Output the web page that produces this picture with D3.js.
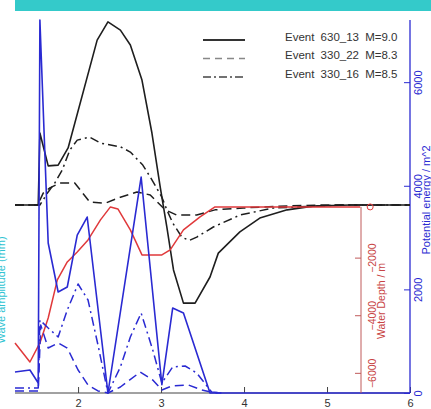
<!DOCTYPE html>
<html><head><meta charset="utf-8">
<script src="https://cdn.jsdelivr.net/npm/d3@7"></script>
<style>body{margin:0;background:#fff;} svg{display:block;font-family:"Liberation Sans",Arial,sans-serif;}</style>
</head><body><svg id="c" width="431" height="409"></svg>
<script>
// ---- data ----
const xTicks = [2, 3, 4, 5, 6];
const energyTicks = [0, 2000, 4000, 6000];
const depthTicks = [-6000, -4000, -2000];
const legendLabels = ["Event 630_13 M=9.0", "Event 330_22 M=8.3", "Event 330_16 M=8.5"];

// black curves (sea surface, hidden left scale)
const blkSolidX = [1.24,1.52,1.54,1.64,1.76,1.88,2.23,2.36,2.51,2.63,2.77,2.89,2.99,3.07,3.15,3.27,3.41,3.59,3.69,3.95,4.19,4.52,4.83,5.28,6.0];
const blkSolidY = [50.4,50.4,69.7,60.9,61.1,65.7,94.6,99.5,97.3,93.3,83.9,69.7,55.2,44.5,33.0,24.1,24.1,31.1,37.5,43.2,46.9,49.1,50.1,50.4,50.4];
const blkDashX = [1.24,1.52,1.54,1.58,1.66,1.78,1.96,2.14,2.33,2.51,2.71,2.87,3.05,3.19,3.43,3.65,3.99,4.43,4.92,6.0];
const blkDashY = [50.4,50.4,51.7,53.6,55.0,56.3,56.3,51.2,50.9,52.5,53.9,53.1,49.1,47.7,47.7,49.1,49.6,50.1,50.4,50.4];
const blkDotX = [1.24,1.52,1.54,1.64,1.72,1.81,1.90,1.99,2.14,2.27,2.51,2.63,2.78,2.87,3.01,3.07,3.14,3.25,3.34,3.43,3.63,3.95,4.35,4.67,5.16,6.0];
const blkDotY = [50.4,50.4,50.4,53.9,56.3,59.8,65.1,67.8,68.6,67.0,66.0,64.6,61.1,57.9,52.5,49.1,45.6,41.8,40.9,41.8,44.5,47.7,49.6,49.9,50.4,50.4];

// blue curves (potential energy, right axis)
const bluSolidX = [1.24,1.42,1.52,1.54,1.64,1.76,1.87,1.99,2.11,2.36,2.76,3.01,3.14,3.27,3.59,3.73];
const bluSolidY = [405,444,193,7200,2895,1949,2046,3049,3397,0,4169,160,1640,1544,0,0];
const bluDashX = [1.24,1.52,1.55,1.64,1.76,1.87,2.0,2.12,2.24,2.36,2.51,2.75,2.90,3.01,3.13,3.33,3.49,3.65,3.73];
const bluDashY = [39,39,1312,868,965,868,444,154,39,0,116,405,251,58,135,154,58,0,0];
const bluDotX = [1.24,1.52,1.54,1.64,1.76,1.87,2.0,2.12,2.24,2.36,2.51,2.63,2.76,2.90,3.01,3.14,3.29,3.43,3.61,3.73];
const bluDotY = [97,97,1409,1255,1081,1602,2104,1795,926,0,502,1081,1544,830,193,502,521,386,19,0];

// red curve (water depth, m)
const depthX = [1.24,1.42,1.54,1.64,1.75,1.87,1.99,2.12,2.27,2.39,2.48,2.63,2.77,3.01,3.11,3.27,3.47,3.65,5.40];
const depthY = [-4963,-5623,-4963,-4095,-2775,-2150,-1803,-1386,-691,-240,-309,-1039,-1907,-1907,-1733,-1039,-587,-240,-240];
const gaugeX = 5.52, gaugeDepth = -240;

// ---- drawing ----
const svg = d3.select("#c");
const W = 431, H = 409;
const mL = 15, mR = 410, mT = 20, mB = 393;

const x = d3.scaleLinear().domain([1.24, 6]).range([mL, mR]);
const yE = d3.scaleLinear().domain([0, 7200]).range([mB, mT]);
const yL = d3.scaleLinear().domain([0, 100]).range([mB, mT]);
const yD = d3.scaleLinear().domain([-6700, 0]).range([mB, 200]);

const BLUE = "#2a2ad2", RED = "#e0393b", BLK = "#1e1e1e";

// teal band
svg.append("rect").attr("x", 15).attr("y", 0).attr("width", W - 15).attr("height", 11).attr("fill", "#34caca");

// x axis
const xAxis = svg.append("g").attr("transform", `translate(0,${mB})`)
  .call(d3.axisBottom(x).tickValues(xTicks).tickSize(-6).tickPadding(6).tickFormat(d3.format("d")));
xAxis.select(".domain").attr("stroke", "#444").attr("d", `M${mL},0H${mR}`);
xAxis.selectAll(".tick line").attr("stroke", "#444");
xAxis.selectAll(".tick text").attr("font-size", 11).attr("fill", "#333").attr("y", 0).attr("dy", 0)
  .attr("transform", "translate(0,14)");
svg.append("line").attr("x1", x(3.73)).attr("x2", x(6)).attr("y1", mB).attr("y2", mB)
  .attr("stroke", BLUE).attr("stroke-width", 1.3);

// right energy axis
const eAxis = svg.append("g").attr("transform", `translate(${mR},0)`)
  .call(d3.axisRight(yE).tickValues(energyTicks).tickSize(-6).tickFormat(d3.format("d")));
eAxis.select(".domain").attr("stroke", BLUE).attr("stroke-width", 1.3).attr("d", `M0,${mT}V${mB}`);
eAxis.selectAll(".tick line").attr("stroke", BLUE);
eAxis.selectAll(".tick text").attr("x", 0).attr("dy", 0)
  .attr("transform", "translate(12,0) rotate(-90)").attr("text-anchor", "middle")
  .attr("font-size", 11).attr("fill", BLUE);
svg.append("text").attr("transform", `translate(430,200) rotate(-90)`).attr("text-anchor", "middle")
  .attr("font-size", 11).attr("fill", BLUE).text("Potential energy / m^2");

// red depth axis
const dxPos = 361;
const dAxis = svg.append("g").attr("transform", `translate(${dxPos},0)`)
  .call(d3.axisRight(yD).tickValues(depthTicks).tickSize(-6).tickFormat(d => "\u2212" + Math.abs(d)));
dAxis.select(".domain").attr("stroke", "#c05a5a").attr("d", `M0,${yD(-240)}V${mB}`);
dAxis.selectAll(".tick line").attr("stroke", "#c05a5a");
dAxis.selectAll(".tick text").attr("x", 0).attr("dy", 0)
  .attr("transform", "translate(15,0) rotate(-90)").attr("text-anchor", "middle")
  .attr("font-size", 10.5).attr("fill", "#c84444");
svg.append("text").attr("transform", `translate(385,301) rotate(-90)`).attr("text-anchor", "middle")
  .attr("font-size", 10.5).attr("fill", "#c84444").text("Water Depth / m");

// left label (cut off at the page edge, as in the reference)
svg.append("text").attr("transform", `translate(5,290) rotate(-90)`).attr("text-anchor", "middle")
  .attr("font-size", 11).attr("fill", "#2fc3d2").text("Wave amplitude (mm)");

function drawLine(xs, ys, ys2, color, dash, w) {
  const pts = xs.map((v, i) => [v, ys[i]]);
  svg.append("path").datum(pts)
    .attr("d", d3.line().x(d => x(d[0])).y(d => ys2(d[1])))
    .attr("fill", "none").attr("stroke", color).attr("stroke-width", w)
    .attr("stroke-dasharray", dash).attr("stroke-linejoin", "round");
}

// black
drawLine(blkSolidX, blkSolidY, yL, BLK, null, 1.6);
drawLine(blkDashX, blkDashY, yL, BLK, "9,5", 1.5);
drawLine(blkDotX, blkDotY, yL, BLK, "9,4,2,4", 1.5);
// red
drawLine(depthX, depthY, yD, RED, null, 1.5);
svg.append("circle").attr("cx", x(gaugeX)).attr("cy", yD(gaugeDepth)).attr("r", 3)
  .attr("fill", "none").attr("stroke", RED).attr("stroke-width", 1);
// blue
drawLine(bluSolidX, bluSolidY, yE, BLUE, null, 1.6);
drawLine(bluDashX, bluDashY, yE, BLUE, "9,5", 1.5);
drawLine(bluDotX, bluDotY, yE, BLUE, "9,4,2,4", 1.5);

// legend
const legDash = [null, "7,5", "8,3,2,3"];
const legColor = ["#333", "#888", "#444"];
const legY = [40, 58.5, 77];
legendLabels.forEach((t, i) => {
  svg.append("line").attr("x1", 203).attr("x2", 245).attr("y1", legY[i]).attr("y2", legY[i])
    .attr("stroke", legColor[i]).attr("stroke-width", i === 0 ? 2 : 1.5).attr("stroke-dasharray", legDash[i]);
  svg.append("text").attr("x", 285).attr("y", legY[i] + 0.5).attr("font-size", 11.5)
    .attr("word-spacing", 3).attr("fill", "#333").text(t);
});
</script></body></html>
